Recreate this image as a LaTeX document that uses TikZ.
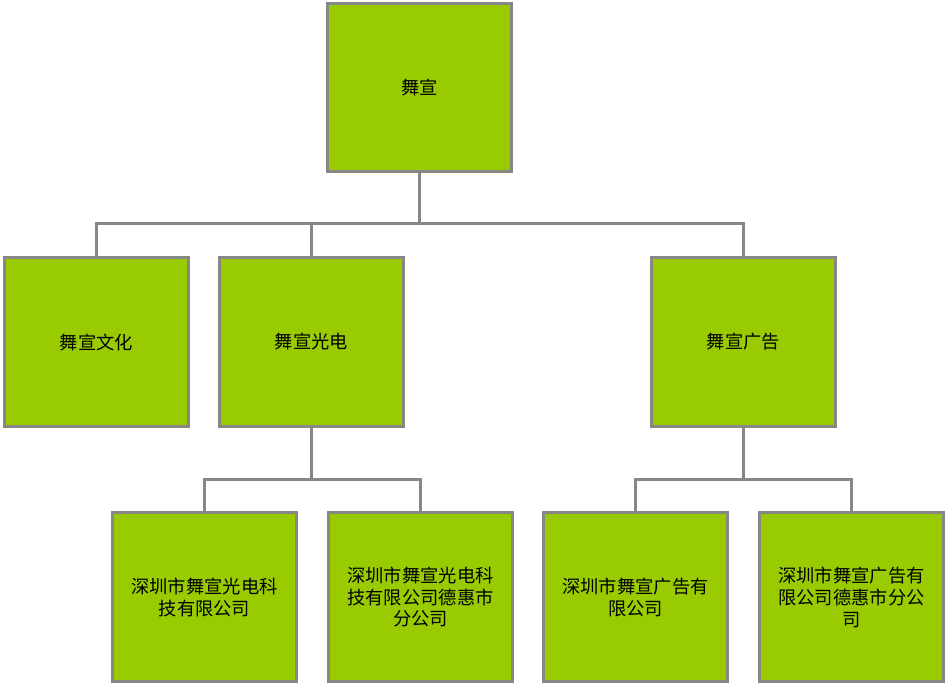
\documentclass[tikz,border=0pt]{standalone}
\usepackage{fontspec}
\newfontfamily\cjk{Noto Sans CJK SC}
\definecolor{boxgreen}{HTML}{99CC00}
\definecolor{linegray}{HTML}{878787}
\usetikzlibrary{positioning}

\begin{document}
\begin{tikzpicture}[x=0.02cm,y=-0.02cm,
		orgbox/.style={draw=linegray,line width=1.7pt,fill=boxgreen,minimum width=3.68cm,minimum height=3.38cm,inner sep=2pt,align=center,font=\cjk\fontsize{10.4}{12.5}\selectfont},
		link/.style={draw=linegray,line width=1.7pt}]
				\useasboundingbox (0,0) rectangle (949,687);
				% top level
				\node[orgbox] (wx) at (419.5,87.5) {舞宣};
				% second level
				\node[orgbox] (wxwh) at (96.5,342) {舞宣文化};
				\node[orgbox] (wxgd) at (311.5,342) {舞宣光电};
				\node[orgbox] (wxgg) at (743.5,342) {舞宣广告};
				% third level
				\node[orgbox] (gdsz) at (204.5,597) {深圳市舞宣光电科\\技有限公司};
				\node[orgbox] (gddh) at (420.5,597) {深圳市舞宣光电科\\技有限公司德惠市\\分公司};
				\node[orgbox] (ggsz) at (635.5,597) {深圳市舞宣广告有\\限公司};
				\node[orgbox] (ggdh) at (851.5,597) {深圳市舞宣广告有\\限公司德惠市分公\\司};
				% connectors
				\draw[link] (wx.south) -- ++(0,50) -| (wxwh.north);
				\draw[link] (wx.south) -- ++(0,50) -| (wxgd.north);
				\draw[link] (wx.south) -- ++(0,50) -| (wxgg.north);
				\draw[link] (wxgd.south) -- ++(0,52) -| (gdsz.north);
				\draw[link] (wxgd.south) -- ++(0,52) -| (gddh.north);
				\draw[link] (wxgg.south) -- ++(0,52) -| (ggsz.north);
				\draw[link] (wxgg.south) -- ++(0,52) -| (ggdh.north);
			\end{tikzpicture}
\end{document}
